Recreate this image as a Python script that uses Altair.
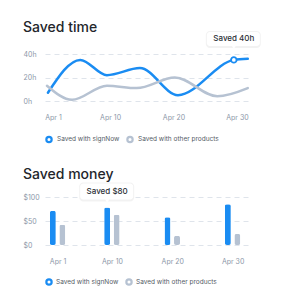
import altair as alt
import pandas as pd

FONT = "Inter"
BLUE = "#1a8cf2"
GRAY = "#b6c2d2"
GRID = "#dfe4eb"
LABEL = "#8c97a8"

series = ["Saved with signNow", "Saved with other products"]

# Saved time (hours) - control points
blue_days = [0.2, 5.3, 9.5, 14.7, 20.7, 29.5, 31.7]
blue_hours = [7, 35, 22, 28, 5, 35, 36]
gray_days = [0.05, 4.0, 9.5, 14.2, 20.2, 26.9, 31.7]
gray_hours = [13, 1, 13, 11, 20, 4, 11]

# Saved money ($)
bar_days = [1, 10, 20, 30]
money_signnow = [71, 78, 58, 85]
money_other = [42, 63, 19, 23]

tick_days = [1, 10, 20, 30]
tick_labels = ["Apr 1", "Apr 10", "Apr 20", "Apr 30"]

time_note_day, time_note_value, time_note_text = 29.5, 35, "Saved 40h"
money_note_day, money_note_value, money_note_text = 10, 78, "Saved $80"

lines = pd.DataFrame(
    [{"day": d, "v": v, "s": series[0]} for d, v in zip(blue_days, blue_hours)]
    + [{"day": d, "v": v, "s": series[1]} for d, v in zip(gray_days, gray_hours)]
)
bars_a = pd.DataFrame({"day": bar_days, "v": money_signnow, "s": series[0]})
bars_b = pd.DataFrame({"day": bar_days, "v": money_other, "s": series[1]})
note_t = pd.DataFrame({"day": [time_note_day], "v": [time_note_value], "t": [time_note_text]})
note_m = pd.DataFrame({"day": [money_note_day], "v": [money_note_value], "t": [money_note_text]})

label_map = " : ".join(f"datum.value == {d} ? '{l}'" for d, l in zip(tick_days, tick_labels)) + " : ''"

xscale = alt.Scale(domain=[-0.26, 32.05], nice=False, zero=False)
xaxis = alt.Axis(values=tick_days, labelExpr=label_map, title=None, domain=False, ticks=False,
                 grid=False, labelFontSize=7, labelColor=LABEL, labelFont=FONT, labelPadding=12,
                 labelFlush=False, labelOverlap=False)
cscale = alt.Scale(domain=series, range=[BLUE, GRAY])
legend_top = alt.Legend(orient="none", legendX=0, legendY=81, direction="horizontal",
                        symbolType="circle", symbolSize=28, symbolStrokeWidth=2.2,
                        symbolFillColor="white", labelFontSize=6.5, labelFont=FONT,
                        labelColor="#555b66", columnPadding=2, labelOffset=4)

def yaxis(vals, expr):
    return alt.Axis(values=vals, labelExpr=expr, title=None, domain=False, ticks=False,
                    grid=True, gridColor=GRID, gridDash=[5, 4], gridWidth=1,
                    labelFontSize=7, labelColor=LABEL, labelFont=FONT, labelAlign="left",
                    labelPadding=22, labelBaseline="middle", labelOverlap=False)

yt = alt.Y("v:Q", scale=alt.Scale(domain=[0, 40], nice=False), axis=yaxis([0, 20, 40], "datum.value + 'h'"))
ym = alt.Y("v:Q", scale=alt.Scale(domain=[0, 100], nice=False), axis=yaxis([0, 50, 100], "'$' + datum.value"))
x = alt.X("day:Q", scale=xscale, axis=xaxis)

line = alt.Chart(lines).mark_line(interpolate="monotone", strokeWidth=2.5, strokeCap="round").encode(
    x=x, y=yt, color=alt.Color("s:N", scale=cscale, title=None, legend=legend_top))
marker = alt.Chart(note_t).mark_point(filled=True, fill="white", stroke=BLUE, strokeWidth=1.8, size=30, opacity=1).encode(
    x=x, y=yt)

def note_layers(df, y, dy_top, dy_bot, xo=0):
    shadow = alt.Chart(df).mark_rect(fill="#000000", opacity=0.05, cornerRadius=4,
                                     xOffset=-28 + xo, x2Offset=27 + xo,
                                     yOffset=dy_top - 1, y2Offset=dy_bot + 2).encode(
        x=x, x2="day:Q", y=y, y2="v:Q")
    box = alt.Chart(df).mark_rect(fill="white", cornerRadius=3,
                                  xOffset=-27 + xo, x2Offset=26 + xo,
                                  yOffset=dy_top, y2Offset=dy_bot).encode(
        x=x, x2="day:Q", y=y, y2="v:Q")
    tri = alt.Chart(df).mark_point(shape="triangle-down", filled=True, fill="white", size=18, opacity=1,
                                   xOffset=xo, yOffset=dy_bot + 1.5).encode(x=x, y=y)
    txt = alt.Chart(df).mark_text(font=FONT, fontSize=8, fontWeight=500, color="#2b2f36",
                                  xOffset=xo, yOffset=(dy_top + dy_bot) / 2 + 0.5, baseline="middle").encode(
        x=x, y=y, text="t:N")
    return [shadow, box, tri, txt]

top = alt.layer(line, marker, *note_layers(note_t, yt, -28, -14)).properties(
    width=205, height=47,
    title=alt.TitleParams("Saved time", anchor="start", fontSize=14, font=FONT, fontWeight=500,
                          color="#23262b", offset=-4))

ba = alt.Chart(bars_a).mark_bar(size=6, cornerRadius=2, xOffset=-4.75).encode(
    x=x, y=ym, fill=alt.Fill("s:N", scale=cscale, legend=None))
bb = alt.Chart(bars_b).mark_bar(size=6, cornerRadius=2, xOffset=4.75).encode(
    x=x, y=ym, fill=alt.Fill("s:N", scale=cscale, legend=None))

# legend of the money chart, drawn as ring + label per series under the axis
def legend_item(name, col, sx):
    df = pd.DataFrame({"series": [name]})
    ring = alt.Chart(df).mark_point(filled=True, fill="white", stroke=col, strokeWidth=2.2,
                                    size=28, opacity=1).encode(x=alt.value(sx), y=alt.value(85))
    lab = alt.Chart(df).mark_text(align="left", baseline="middle", fontSize=6.5, font=FONT,
                                  color="#555b66").encode(x=alt.value(sx + 7), y=alt.value(85),
                                                          text="series:N")
    return [ring, lab]

bottom = alt.layer(ba, bb, *note_layers(note_m, ym, -24, -8, xo=-4.75),
                   *legend_item(series[0], BLUE, 4), *legend_item(series[1], GRAY, 84)).properties(
    width=205, height=48,
    title=alt.TitleParams("Saved money", anchor="start", fontSize=14, font=FONT, fontWeight=500,
                          color="#23262b", offset=1))

chart = alt.vconcat(top, bottom, spacing=20).resolve_scale(
    color="independent", fill="independent").resolve_legend(
    color="independent", fill="independent").properties(
    padding={"left": 23, "top": 20, "right": 10, "bottom": 5}, background="white"
).configure_view(stroke=None)

chart.save("out.html", embed_options={"renderer": "svg", "actions": False})
